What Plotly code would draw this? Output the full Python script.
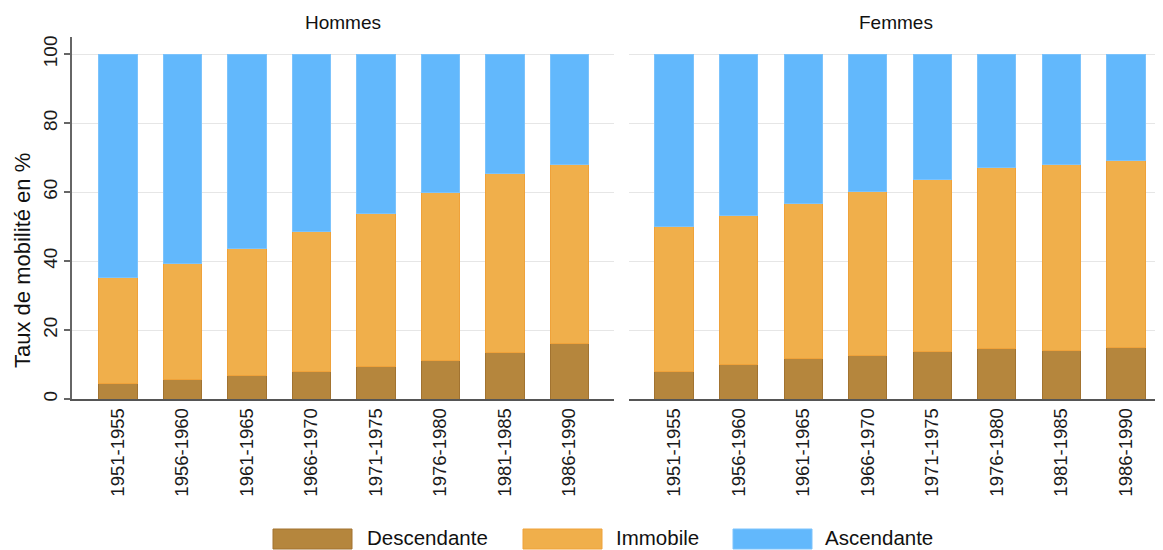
import plotly.graph_objects as go

categories = ["1951-1955", "1956-1960", "1961-1965", "1966-1970",
              "1971-1975", "1976-1980", "1981-1985", "1986-1990"]

# Hommes
h_desc = [4.6, 5.6, 6.8, 8.0, 9.3, 11.2, 13.5, 16.0]
h_immo = [30.7, 33.8, 36.8, 40.5, 44.5, 48.8, 51.8, 52.0]
h_asc = [64.7, 60.6, 56.4, 51.5, 46.2, 40.0, 34.7, 32.0]

# Femmes
f_desc = [8.0, 9.9, 11.7, 12.5, 13.8, 14.7, 14.2, 15.0]
f_immo = [41.9, 43.3, 45.1, 47.7, 50.0, 52.4, 53.8, 54.2]
f_asc = [50.1, 46.8, 43.2, 39.8, 36.2, 32.9, 32.0, 30.8]

series_names = ["Descendante", "Immobile", "Ascendante"]
fill_colors = ["#B5863D", "#F0AF4B", "#62B8FC"]
line_colors = ["#A27330", "#EFA23A", "#7CC3FC"]

FONT = "Liberation Sans, Arial, sans-serif"

fig = go.Figure()
for xa, ya, data in [("x", "y", [h_desc, h_immo, h_asc]),
                     ("x2", "y2", [f_desc, f_immo, f_asc])]:
    for name, vals, fc, lc in zip(series_names, data, fill_colors, line_colors):
        fig.add_trace(go.Bar(
            x=list(range(len(categories))), y=vals, name=name,
            xaxis=xa, yaxis=ya, showlegend=False,
            marker=dict(color=fc, line=dict(color=lc, width=1)),
        ))

# The page body has an 8px margin, so the figure starts at (8, 8).
OFF = 8
W, H = 1163 - OFF, 550 - OFF
L, R, T, B = 72 - OFF, 0, 37 - OFF, 151
pw = W - L - R
ph = H - T - B

def px_x(p):
    # p: screen x in window pixels
    return (p - OFF - L) / pw

def px_y(p):
    # p: screen y in window pixels
    return (H - B - (p - OFF)) / ph

d1 = [0, px_x(614)]
d2 = [px_x(629), 1]

common_y = dict(range=[0, 105], tickvals=[0, 20, 40, 60, 80, 100],
                showgrid=True, gridcolor="#E6E6E6", gridwidth=1,
                zeroline=False, fixedrange=True)

fig.update_layout(
    width=W, height=H,
    margin=dict(l=L, r=R, t=T, b=B, pad=0),
    barmode="stack", bargap=0.41,
    plot_bgcolor="white", paper_bgcolor="white",
    font=dict(family=FONT, size=16, color="#1A1A1A"),
    showlegend=False,
    xaxis=dict(domain=d1, range=[-0.713, 7.69],
               tickvals=list(range(len(categories))), ticktext=categories,
               tickangle=-90, ticks="", showline=True, linecolor="#555555",
               linewidth=1.5, showgrid=False, zeroline=False,
               tickfont=dict(size=18.5, color="#1A1A1A")),
    xaxis2=dict(domain=d2, range=[-0.697, 7.573],
                tickvals=list(range(len(categories))), ticktext=categories,
                tickangle=-90, ticks="", showline=True, linecolor="#555555",
                linewidth=1.5, showgrid=False, zeroline=False,
                tickfont=dict(size=18.5, color="#1A1A1A"), anchor="y2"),
    yaxis=dict(**common_y, showline=True, linecolor="#666666", linewidth=1.5,
               ticks="outside", ticklen=6, tickcolor="#666666", tickwidth=1.5,
               tickangle=-90, tickfont=dict(size=19, color="#1A1A1A")),
    yaxis2=dict(**common_y, anchor="x2", showticklabels=False, showline=False,
                ticks=""),
)

annotations = [
    dict(text="Hommes", x=(d1[0] + d1[1]) / 2, y=px_y(22), xref="paper", yref="paper",
         showarrow=False, font=dict(size=19, color="#111111"), xanchor="center", yanchor="middle"),
    dict(text="Femmes", x=(d2[0] + d2[1]) / 2, y=px_y(22), xref="paper", yref="paper",
         showarrow=False, font=dict(size=19, color="#111111"), xanchor="center", yanchor="middle"),
    dict(text="Taux de mobilité en %", x=px_x(22), y=px_y(261), xref="paper", yref="paper",
         showarrow=False, textangle=-90, font=dict(size=22, color="#111111"),
         xanchor="center", yanchor="middle"),
]

# custom legend
legend_items = [(273, 352, 366), (523, 602, 615), (733, 812, 824)]
shapes = []
for (x0, x1, tx), name, fc, lc in zip(legend_items, series_names, fill_colors, line_colors):
    shapes.append(dict(type="rect", xref="paper", yref="paper",
                       x0=px_x(x0), x1=px_x(x1), y0=px_y(549), y1=px_y(529),
                       fillcolor=fc, line=dict(color=lc, width=1)))
    annotations.append(dict(text=name, x=px_x(tx), y=px_y(537.5), xref="paper", yref="paper",
                            showarrow=False, xanchor="left", yanchor="middle", borderpad=0,
                            font=dict(size=20.5, color="#111111")))

fig.update_layout(annotations=annotations, shapes=shapes)

fig.write_html("out.html")
